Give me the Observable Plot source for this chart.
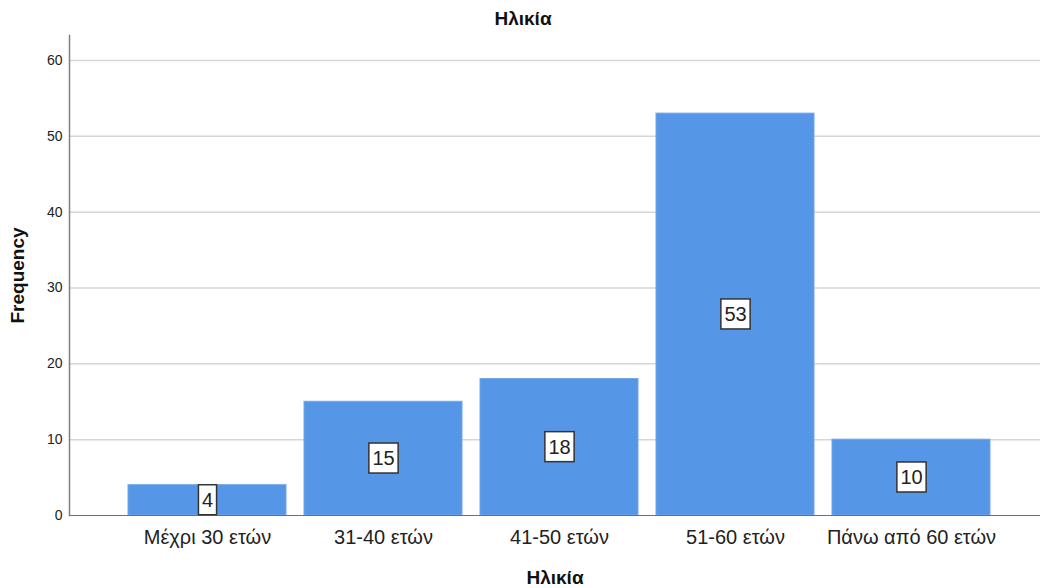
<!DOCTYPE html>
<html>
<head>
<meta charset="utf-8">
<script src="https://cdn.jsdelivr.net/npm/d3@7"></script>
<script src="https://cdn.jsdelivr.net/npm/@observablehq/plot@0.6"></script>
<style>
  html, body { margin: 0; padding: 0; background: white; }
  body { width: 1040px; height: 588px; overflow: hidden; font-family: "Liberation Sans", Arial, sans-serif; }
  #title { height: 29px; padding-top: 4px; line-height: 29px; text-align: center; font-weight: bold; font-size: 19px; color: #111; padding-left: 6px; }
  svg g[aria-label="y-axis label"] text, svg g[aria-label="x-axis label"] text { font-weight: bold; font-size: 19px; fill: #111; }
</style>
</head>
<body>
<div id="title">Ηλικία</div>
<div id="chart"></div>
<script>
const categories = ["Μέχρι 30 ετών", "31-40 ετών", "41-50 ετών", "51-60 ετών", "Πάνω από 60 ετών"];
const frequencies = [4, 15, 18, 53, 10];
const yTicks = [0, 10, 20, 30, 40, 50, 60];

const data = categories.map((c, i) => ({category: c, frequency: frequencies[i]}));

const chart = Plot.plot({
  width: 1040,
  height: 555,
  marginTop: 2,
  marginLeft: 69,
  marginRight: 0,
  marginBottom: 73,
  style: {fontFamily: "'Liberation Sans', Arial, sans-serif", fontSize: "20px", color: "#222", background: "white"},
  x: {domain: categories, paddingInner: 0.1, paddingOuter: 0.3025, align: 0.54},
  y: {domain: [0, 63.3]},
  marks: [
    Plot.ruleY(yTicks.filter(t => t > 0), {stroke: "#d6d6d6", strokeWidth: 1.5}),
    Plot.barY(data, {x: "category", y: "frequency", fill: "#5596e6", stroke: "#72a8ea", strokeWidth: 1}),
    Plot.ruleY([0], {stroke: "#6e6e6e", strokeWidth: 1.2}),
    Plot.frame({anchor: "left", stroke: "#808080", strokeWidth: 1.5}),
    Plot.axisY({ticks: yTicks, tickSize: 0, tickPadding: 7, fontSize: 14, label: "Frequency", labelAnchor: "center", labelOffset: 59, labelArrow: "none"}),
    Plot.axisX({tickSize: 0, tickPadding: 14, fontSize: 20, label: "Ηλικία", labelAnchor: "center", labelOffset: 68, labelArrow: "none"}),
    Plot.text(data, {x: "category", y: d => d.frequency / 2, text: d => String(d.frequency), fontSize: 20, fill: "#222", className: "vlabel"})
  ]
});

document.getElementById("chart").appendChild(chart);

d3.select(chart).selectAll("g.vlabel text").each(function() {
  const b = this.getBBox();
  const r = d3.select(this.parentNode).insert("rect", () => this)
    .attr("x", b.x - 3.5)
    .attr("y", b.y - 4)
    .attr("width", b.width + 7)
    .attr("height", b.height + 8)
    .attr("fill", "white")
    .attr("stroke", "#333")
    .attr("stroke-width", 1.5);
  const t = this.getAttribute("transform");
  if (t) r.attr("transform", t);
});
</script>
</body>
</html>
